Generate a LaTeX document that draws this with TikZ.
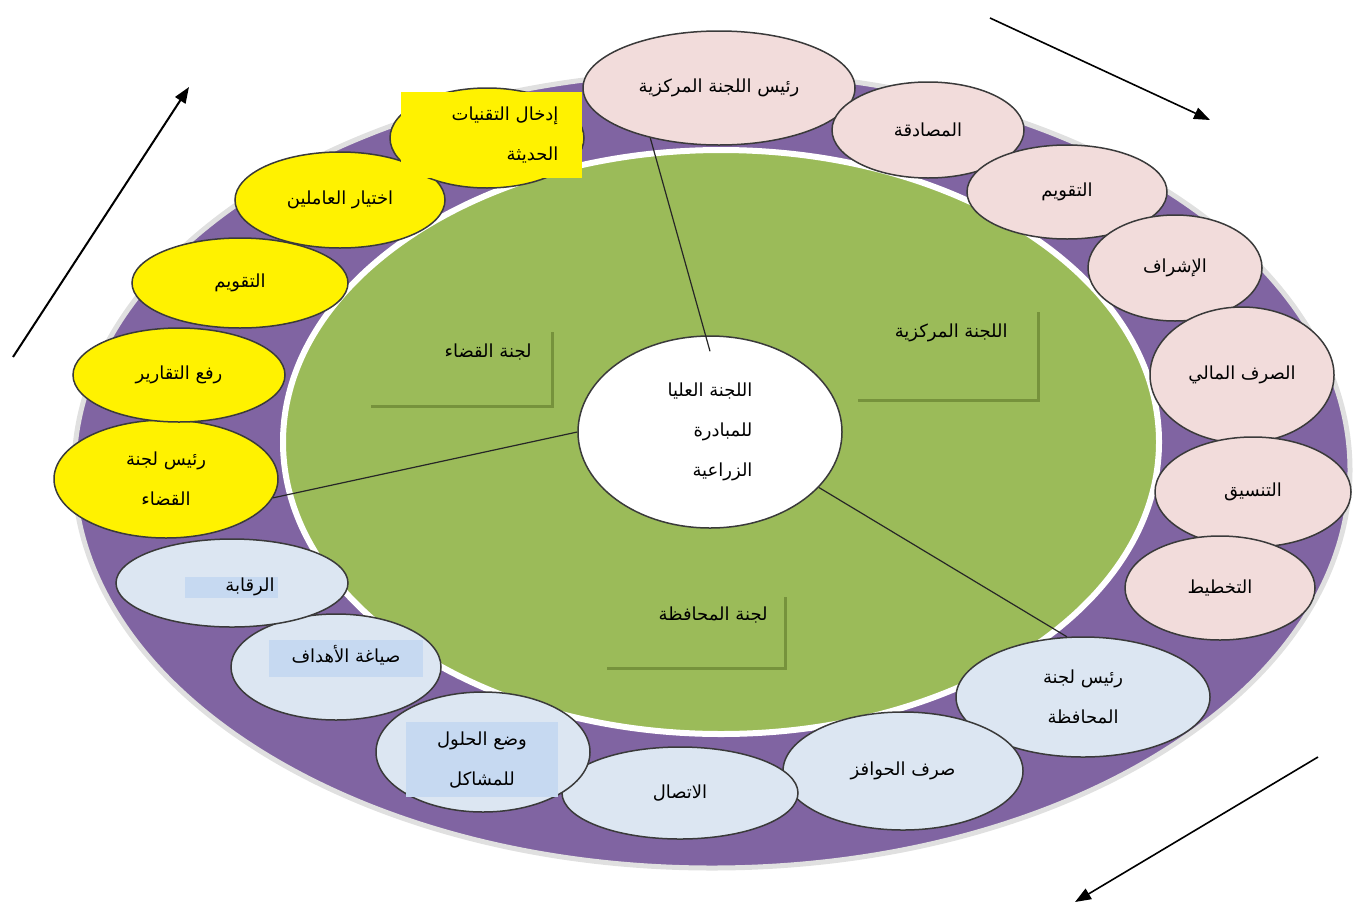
\documentclass[tikz,border=0pt]{standalone}
\usepackage{fontspec}
\usetikzlibrary{shapes.geometric,arrows.meta}
\TeXXeTstate=1
\newfontfamily\arabicfont[Script=Arabic]{DejaVu Sans}
\newcommand{\rtl}[1]{\beginR #1\endR}
\definecolor{ringpurple}{HTML}{8064A2}
\definecolor{fieldgreen}{HTML}{9BBB59}
\definecolor{pinkfill}{HTML}{F2DCDB}
\definecolor{bluefill}{HTML}{DCE6F2}
\definecolor{bluetext}{HTML}{C6D9F1}
\definecolor{boxline}{HTML}{76923C}
\definecolor{bubline}{HTML}{3A3A3A}
\begin{document}
\begin{tikzpicture}[x = 0.5pt, y = -0.5pt,
	bubble/.style = {ellipse, draw = bubline, line width = 0.75pt, inner sep = 0pt, align = center, font = \arabicfont\fontsize{9}{20}\selectfont},
	pinkbub/.style = {bubble, fill = pinkfill},
	bluebub/.style = {bubble, fill = bluefill},
	yellowbub/.style = {bubble, fill = yellow},
	bubtext/.style = {inner sep = 0pt, align = center, font = \arabicfont\fontsize{9}{20}\selectfont},
	boxtext/.style = {anchor = east, inner sep = 0pt, font = \arabicfont\fontsize{9}{20}\selectfont},
	boxshadow/.style = {boxline, line width = 1.5pt},
	link/.style = {black!85, line width = 0.6pt},
	flow/.style = {black, line width = 1pt, -{Triangle[length = 8pt, width = 6pt]}}]
		\useasboundingbox (0, 0) rectangle (1353, 905);
		\filldraw[fill = ringpurple, draw = black!12, line width = 2.5pt] (712, 470) ellipse (319pt and 199pt);
		\filldraw[fill = fieldgreen, draw = white, line width = 3pt] (721, 442) ellipse (219pt and 146pt);
		%%%%%%%%%
		\draw[boxshadow] (371, 406) -- (552, 406) -- (552, 332);
		\node[boxtext] (qada) at (532, 352) {\rtl{لجنة القضاء}};
		\draw[boxshadow] (858, 400) -- (1038, 400) -- (1038, 312);
		\node[boxtext] (markaz) at (1008, 333) {\rtl{اللجنة المركزية}};
		\draw[boxshadow] (607, 668) -- (785, 668) -- (785, 597);
		\node[boxtext] (muhafaza) at (768, 615) {\rtl{لجنة المحافظة}};
		%%%%%%%%%
		\node[bubble, fill = white, minimum width = 132pt, minimum height = 96pt, align = right] (cen) at (710, 432) {\rtl{اللجنة العليا}\\ \rtl{للمبادرة}\\ \rtl{الزراعية}};
		%%%%%%%%%
		\node[pinkbub, minimum width = 136pt, minimum height = 57pt] (rlc) at (719, 88) {\rtl{رئيس اللجنة المركزية}};
		\node[pinkbub, minimum width = 96pt, minimum height = 48pt] (p2) at (928, 130) {\rtl{المصادقة}};
		\node[pinkbub, minimum width = 100pt, minimum height = 47pt] (p3) at (1067, 192) {\rtl{التقويم}};
		\node[pinkbub, minimum width = 87pt, minimum height = 53pt] (p4) at (1175, 268) {\rtl{الإشراف}};
		\node[pinkbub, minimum width = 92pt, minimum height = 68pt] (p5) at (1242, 375) {\rtl{الصرف المالي}};
		\node[pinkbub, minimum width = 98pt, minimum height = 55pt] (p6) at (1253, 492) {\rtl{التنسيق}};
		\node[pinkbub, minimum width = 95pt, minimum height = 52pt] (p7) at (1220, 588) {\rtl{التخطيط}};
		%%%%%%%%%
		\node[bluebub, minimum width = 127pt, minimum height = 60pt] (rlm) at (1083, 697) {\rtl{رئيس لجنة}\\ \rtl{المحافظة}};
		\node[bluebub, minimum width = 120pt, minimum height = 59pt] (b2) at (903, 771) {\rtl{صرف الحوافز}};
		\node[bluebub, minimum width = 118pt, minimum height = 46pt] (b3) at (680, 793) {\rtl{الاتصال}};
		\node[bluebub, minimum width = 107pt, minimum height = 60pt] (b4) at (483, 752) {};
		\fill[bluetext] (406, 722) rectangle (558, 797);
		\node[bubtext] (b4t) at (482, 760) {\rtl{وضع الحلول}\\ \rtl{للمشاكل}};
		\node[bluebub, minimum width = 105pt, minimum height = 53pt] (b5) at (336, 667) {};
		\fill[bluetext] (269, 640) rectangle (423, 677);
		\node[bubtext] (b5t) at (346, 655) {\rtl{صياغة الأهداف}};
		\node[bluebub, minimum width = 116pt, minimum height = 44pt] (b6) at (232, 583) {};
		\fill[bluetext] (185, 577) rectangle (278, 598);
		\node[bubtext] (b6t) at (250, 587) {\rtl{الرقابة}};
		%%%%%%%%%
		\node[yellowbub, minimum width = 112pt, minimum height = 59pt] (rlq) at (166, 479) {\rtl{رئيس لجنة}\\ \rtl{القضاء}};
		\node[yellowbub, minimum width = 106pt, minimum height = 47pt] (y2) at (179, 375) {\rtl{رفع التقارير}};
		\node[yellowbub, minimum width = 108pt, minimum height = 45pt] (y3) at (240, 283) {\rtl{التقويم}};
		\node[yellowbub, minimum width = 105pt, minimum height = 48pt] (y4) at (340, 200) {\rtl{اختيار العاملين}};
		\node[yellowbub, minimum width = 97pt, minimum height = 50pt] (y5) at (487, 138) {};
		\fill[yellow] (401, 92) rectangle (582, 178);
		\node[bubtext, align = right] (y5t) at (505, 135) {\rtl{إدخال التقنيات}\\ \rtl{الحديثة}};
		%%%%%%%%%
		\draw[link] (rlc.216) -- ([yshift = -8pt]cen.north);
		\draw[link] (rlq.-10) -- (cen.west);
		\draw[link] (cen.-27) -- (rlm.105);
		%%%%%%%%%
		\coordinate (upS) at (13, 357);
		\coordinate (upE) at (189, 87);
		\coordinate (rtS) at (990, 18);
		\coordinate (rtE) at (1210, 120);
		\coordinate (dnS) at (1318, 757);
		\coordinate (dnE) at (1075, 902);
		\draw[flow] (upS) -- (upE);
		\draw[flow, line width = 0.8pt] (rtS) -- (rtE);
		\draw[flow, line width = 0.8pt] (dnS) -- (dnE);
	\end{tikzpicture}
\end{document}
